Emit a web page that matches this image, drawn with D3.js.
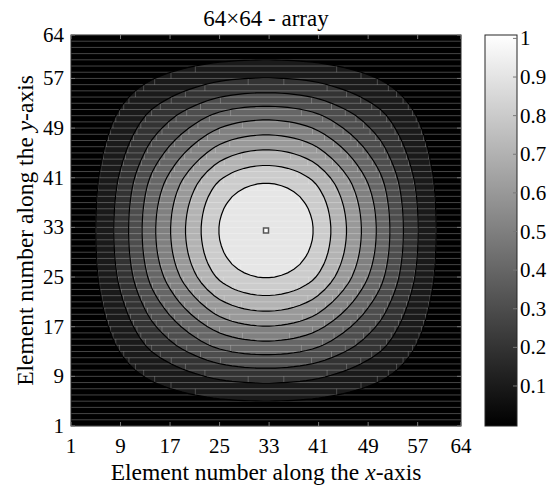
<!DOCTYPE html>
<html>
<head>
<meta charset="utf-8">
<script src="https://cdn.jsdelivr.net/npm/d3@7"></script>
<style>
  body { margin: 0; background: #fff; }
</style>
</head>
<body>
<svg id="chart" width="560" height="488" font-family="'Liberation Serif', 'Times New Roman', serif"></svg>
<script>
// 1-D taper across the 64 elements (read off the contour spacing); the array is taper(x) * taper(y)
const taper = [
  0.009, 0.024, 0.044, 0.069, 0.099, 0.131, 0.166, 0.203, 0.243, 0.286, 0.331, 0.377, 0.424, 0.471, 0.513, 0.554,
  0.596, 0.638, 0.680, 0.720, 0.760, 0.799, 0.837, 0.872, 0.903, 0.927, 0.948, 0.965, 0.979, 0.989, 0.996, 1.000,
  1.000, 0.996, 0.989, 0.979, 0.965, 0.948, 0.927, 0.903, 0.872, 0.837, 0.799, 0.760, 0.720, 0.680, 0.638, 0.596,
  0.554, 0.513, 0.471, 0.424, 0.377, 0.331, 0.286, 0.243, 0.203, 0.166, 0.131, 0.099, 0.069, 0.044, 0.024, 0.009
];
const levels = [0.1, 0.2, 0.3, 0.4, 0.5, 0.6, 0.7, 0.8, 0.9];
const xTicks = [1, 9, 17, 25, 33, 41, 49, 57, 64];
const yTicks = [1, 9, 17, 25, 33, 41, 49, 57, 64];
const barTicks = [0.1, 0.2, 0.3, 0.4, 0.5, 0.6, 0.7, 0.8, 0.9, 1];
const peak = [32.5, 32.5];
const title = "64\u00d764 - array";

const n = taper.length;
const grid = [];
for (let j = 0; j < n; j++) {
  for (let i = 0; i < n; i++) grid.push(taper[i] * taper[j]);
}

const svg = d3.select("#chart");
const plot = { left: 71, top: 35, width: 390, height: 391 };
const bar = { left: 485, width: 32 };

const x = d3.scaleLinear().domain([1, 64]).range([plot.left, plot.left + plot.width]);
const y = d3.scaleLinear().domain([1, 64]).range([plot.top + plot.height, plot.top]);
const gray = d3.scaleLinear().domain([0, 1]).range(["#000", "#fff"]);
const cb = d3.scaleLinear().domain([0, 1]).range([424.6, 38.4]);

const defs = svg.append("defs");
defs.append("clipPath").attr("id", "clip")
  .append("rect")
  .attr("x", plot.left).attr("y", plot.top)
  .attr("width", plot.width).attr("height", plot.height);

const g = svg.append("g").attr("clip-path", "url(#clip)");

// below the lowest level
g.append("rect")
  .attr("x", plot.left).attr("y", plot.top)
  .attr("width", plot.width).attr("height", plot.height)
  .attr("fill", gray(0));

// d3.contours puts sample i at i + 0.5, element number = i + 1
const transform = d3.geoTransform({
  point: function (px, py) {
    this.stream.point(x(px + 0.5), y(py + 0.5));
  }
});
const path = d3.geoPath(transform);
const bands = d3.contours().size([n, n]).thresholds(levels)(grid);

g.selectAll("path.band")
  .data(bands)
  .join("path")
  .attr("class", "band")
  .attr("d", path)
  .attr("fill", d => gray(d.value))
  .attr("stroke", "none");

// patch seams of the exported figure
g.append("g")
  .selectAll("line")
  .data(d3.range(1, n + 1))
  .join("line")
  .attr("x1", plot.left).attr("x2", plot.left + plot.width)
  .attr("y1", d => y(d)).attr("y2", d => y(d))
  .attr("stroke", "#fff")
  .attr("stroke-opacity", 0.27)
  .attr("stroke-width", 1);

const seams = [];
for (let k = 1; k <= n; k++) {
  const row = d3.range(n).map(i => grid[(k - 1) * n + i]);
  levels.forEach(L => {
    for (let i = 0; i < n - 1; i++) {
      const a = row[i] - L, b = row[i + 1] - L;
      if (a * b < 0) {
        seams.push({ x: i + 1 + a / (a - b), y0: k, y1: k < 32.5 ? k + 1 : k - 1 });
      }
    }
  });
}
g.append("g")
  .selectAll("line")
  .data(seams)
  .join("line")
  .attr("x1", d => x(d.x)).attr("x2", d => x(d.x))
  .attr("y1", d => y(d.y0)).attr("y2", d => y(d.y1))
  .attr("stroke", "#fff")
  .attr("stroke-opacity", 0.22)
  .attr("stroke-width", 1);

g.selectAll("path.line")
  .data(bands)
  .join("path")
  .attr("class", "line")
  .attr("d", path)
  .attr("fill", "none")
  .attr("stroke", "#000")
  .attr("stroke-width", 1.2);

// peak marker
svg.append("rect")
  .attr("x", x(peak[0]) - 2.5).attr("y", y(peak[1]) - 2.5)
  .attr("width", 5).attr("height", 5)
  .attr("fill", "#fff")
  .attr("stroke", "#555")
  .attr("stroke-width", 1.5);

// frame and inner ticks
svg.append("rect")
  .attr("x", plot.left).attr("y", plot.top)
  .attr("width", plot.width).attr("height", plot.height)
  .attr("fill", "none")
  .attr("stroke", "#262626")
  .attr("stroke-width", 1);

const tickLen = 4;
const ticks = svg.append("g").attr("stroke", "#777").attr("stroke-width", 1);
xTicks.forEach(t => {
  ticks.append("line").attr("x1", x(t)).attr("x2", x(t))
    .attr("y1", plot.top + plot.height).attr("y2", plot.top + plot.height - tickLen);
  ticks.append("line").attr("x1", x(t)).attr("x2", x(t))
    .attr("y1", plot.top).attr("y2", plot.top + tickLen);
});
yTicks.forEach(t => {
  ticks.append("line").attr("y1", y(t)).attr("y2", y(t))
    .attr("x1", plot.left).attr("x2", plot.left + tickLen);
  ticks.append("line").attr("y1", y(t)).attr("y2", y(t))
    .attr("x1", plot.left + plot.width).attr("x2", plot.left + plot.width - tickLen);
});

svg.append("g").selectAll("text")
  .data(xTicks)
  .join("text")
  .attr("x", d => x(d))
  .attr("y", 453)
  .attr("text-anchor", "middle")
  .attr("font-size", 21)
  .text(d => d);

svg.append("g").selectAll("text")
  .data(yTicks)
  .join("text")
  .attr("x", 64)
  .attr("y", d => y(d) + 7)
  .attr("text-anchor", "end")
  .attr("font-size", 21)
  .text(d => d);

svg.append("text")
  .attr("x", x(32.5))
  .attr("y", 26)
  .attr("text-anchor", "middle")
  .attr("font-size", 23)
  .text(title);

const xLabel = svg.append("text")
  .attr("x", x(32.5))
  .attr("y", 480)
  .attr("text-anchor", "middle")
  .attr("font-size", 23.5);
xLabel.append("tspan").text("Element number along the ");
xLabel.append("tspan").attr("font-style", "italic").text("x");
xLabel.append("tspan").text("-axis");

const yLabel = svg.append("text")
  .attr("transform", `translate(33,${y(32.5)}) rotate(-90)`)
  .attr("text-anchor", "middle")
  .attr("font-size", 23.5);
yLabel.append("tspan").text("Element number along the ");
yLabel.append("tspan").attr("font-style", "italic").text("y");
yLabel.append("tspan").text("-axis");

// colorbar
const grad = defs.append("linearGradient")
  .attr("id", "cbar")
  .attr("x1", 0).attr("y1", 1).attr("x2", 0).attr("y2", 0);
grad.append("stop").attr("offset", "0%").attr("stop-color", gray(0));
grad.append("stop").attr("offset", "100%").attr("stop-color", gray(1));

svg.append("rect")
  .attr("x", bar.left).attr("y", plot.top)
  .attr("width", bar.width).attr("height", plot.height)
  .attr("fill", "url(#cbar)")
  .attr("stroke", "#262626")
  .attr("stroke-width", 1);

svg.append("g").selectAll("line")
  .data(barTicks)
  .join("line")
  .attr("x1", bar.left + bar.width - tickLen).attr("x2", bar.left + bar.width)
  .attr("y1", d => cb(d)).attr("y2", d => cb(d))
  .attr("stroke", "#777");

svg.append("g").selectAll("text")
  .data(barTicks)
  .join("text")
  .attr("x", bar.left + bar.width + 3)
  .attr("y", d => cb(d) + 7)
  .attr("font-size", 21)
  .text(d => d === 1 ? "1" : d.toFixed(1));
</script>
</body>
</html>
